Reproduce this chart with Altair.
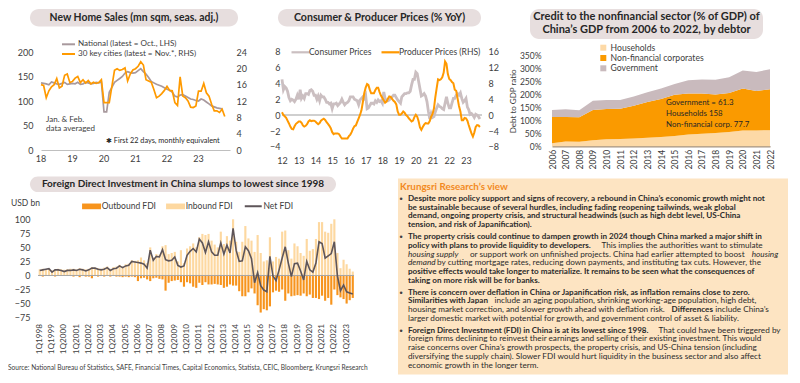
import altair as alt
import pandas as pd

FONT = "Lato"
INK = "#404040"
DARK = "#262626"
W, H = 784, 367

# ---------------- data ----------------
HOME_NAT = "National (latest = Oct., LHS)"
HOME_CITY = "30 key cities (latest = Nov.*, RHS)"
home_national = [
    137, 136, 135, 133, 139, 137, 135, 134, 136, 138, 134, 135,
    136, 135, 138, 134, 135, 138, 137, 135, 136, 138, 137, 139,
    78, 78, 118, 128, 138, 142, 146, 150, 157, 160, 158, 157,
    158, 162, 166, 160, 155, 148, 140, 137, 134, 132, 130, 127,
    124, 122, 118, 110, 108, 112, 113, 110, 107, 104, 103, 101,
    100, 104, 102, 98, 94, 90, 88, 86, 85, 84,
]
home_cities = [
    16.0, 15.8, 12.8, 14.5, 15.5, 16.0, 17.5, 15.2, 15.6, 18.3, 18.6, 16.5,
    16.8, 17.6, 18.0, 16.5, 17.2, 16.4, 17.0, 16.2, 16.6, 16.3, 16.5, 17.2,
    11.6, 11.6, 11.6, 15.6, 19.5, 19.9, 19.5, 19.7, 20.1, 16.9, 18.6, 19.6,
    19.9, 20.5, 21.6, 20.8, 17.2, 16.9, 16.6, 14.8, 12.8, 13.2, 13.8, 14.6,
    15.6, 14.6, 14.5, 11.6, 10.9, 17.9, 13.2, 12.8, 12.0, 10.5, 10.4, 10.8,
    14.4, 14.4, 16.3, 14.0, 13.2, 11.2, 9.6, 9.6, 9.2, 10.0, 8.2,
]
home_year_ticks = [2018, 2019, 2020, 2021, 2022, 2023]
home_year_labels = ["18", "19", "20", "21", "22", "23"]

CPI_NAME = "Consumer Prices"
PPI_NAME = "Producer Prices (RHS)"
cpi_yoy = [
    4.5, 3.2, 3.6, 3.4, 3.0, 2.2, 1.8, 2.0, 1.9, 1.7, 2.0, 2.5,
    2.0, 3.2, 2.1, 2.4, 2.1, 2.7, 2.7, 2.6, 3.1, 3.2, 3.0, 2.5,
    2.5, 2.0, 2.4, 1.8, 2.5, 2.3, 2.3, 2.0, 1.6, 1.6, 1.4, 1.5,
    0.8, 1.4, 1.4, 1.5, 1.2, 1.4, 1.6, 2.0, 1.6, 1.3, 1.5, 1.6,
    1.8, 2.3, 2.3, 2.3, 2.0, 1.9, 1.8, 1.3, 1.9, 2.1, 2.3, 2.1,
    2.5, 0.8, 0.9, 1.2, 1.5, 1.5, 1.4, 1.8, 1.6, 1.9, 1.7, 1.8,
    1.5, 2.9, 2.1, 1.8, 1.8, 1.9, 2.1, 2.3, 2.5, 2.5, 2.2, 1.9,
    1.7, 1.5, 2.3, 2.5, 2.7, 2.7, 2.8, 2.8, 3.0, 3.8, 4.5, 4.5,
    5.4, 5.2, 4.3, 3.3, 2.4, 2.5, 2.7, 2.4, 1.7, 0.5, -0.5, 0.2,
    -0.3, -0.2, 0.4, 0.9, 1.3, 1.1, 1.0, 0.8, 0.7, 1.5, 2.3, 1.5,
    0.9, 0.9, 1.5, 2.1, 2.1, 2.5, 2.7, 2.5, 2.8, 2.1, 1.6, 1.8,
    2.1, 1.0, 0.7, 0.1, 0.2, 0.0, -0.3, 0.1, 0.0, -0.2, -0.5,
]
ppi_yoy = [
    0.7, 0.0, -0.3, -0.7, -1.4, -2.1, -2.9, -3.5, -3.6, -2.8, -2.2, -1.9,
    -1.6, -1.6, -1.9, -2.6, -2.9, -2.7, -2.3, -1.6, -1.3, -1.5, -1.4, -1.4,
    -1.6, -2.0, -2.3, -2.0, -1.4, -1.1, -0.9, -1.2, -1.8, -2.2, -2.7, -3.3,
    -4.3, -4.8, -4.6, -4.6, -4.6, -4.8, -5.4, -5.9, -5.9, -5.9, -5.9, -5.9,
    -5.3, -4.9, -4.3, -3.4, -2.8, -2.6, -1.7, -0.8, 0.1, 1.2, 3.3, 5.5,
    6.9, 7.8, 7.6, 6.4, 5.5, 5.5, 5.5, 6.3, 6.9, 6.9, 5.8, 4.9,
    4.3, 3.7, 3.1, 3.4, 4.1, 4.7, 4.6, 4.1, 3.6, 3.3, 2.7, 0.9,
    0.1, 0.1, 0.4, 0.9, 0.6, 0.0, -0.3, -0.8, -1.2, -1.6, -1.4, -0.5,
    0.1, -0.4, -1.5, -3.1, -3.7, -3.0, -2.4, -2.0, -2.1, -2.1, -1.5, -0.4,
    0.3, 1.7, 4.4, 6.8, 9.0, 8.8, 9.0, 9.5, 10.7, 13.5, 12.9, 10.3,
    9.1, 8.8, 8.3, 8.0, 6.4, 6.1, 4.2, 2.3, 0.9, -1.3, -1.3, -0.7,
    -0.8, -1.4, -2.5, -3.6, -4.6, -5.4, -4.4, -3.0, -2.5, -2.6, -3.0,
]

debt_years = list(range(2006, 2023))
debt_sectors = ["Households", "Non-financial corporates", "Government"]
debt_households = [11, 18, 17, 23, 27, 28, 30, 33, 35, 39, 45, 48, 51, 55, 61, 61, 61.3]
debt_corporates = [102, 95, 95, 117, 116, 116, 126, 137, 147, 159, 158, 155, 148, 150, 161, 152, 158]
debt_government = [27, 29, 27, 35, 35, 34, 36, 38, 40, 42, 51, 54, 57, 61, 70, 73, 77.7]
debt_notes = ["Government = 61.3", "Households 158", "Non-financial corp. 77.7"]

fdi_quarters = [f"{q}Q{y}" for y in range(1998, 2024) for q in range(1, 5)][:103]
fdi_labels = [f"1Q{y}" for y in range(1998, 2024)]
fdi_types = ["Outbound FDI", "Inbound FDI"]
fdi_inbound = [
    11, 12, 11, 12, 9, 11, 12, 11, 10, 11, 12, 12, 11, 13, 12, 11,
    12, 15, 14, 13, 12, 14, 16, 12, 15, 16, 19, 16, 20, 21, 27, 26,
    27, 32, 27, 22, 50, 32, 38, 37, 52, 54, 38, 40, 42, 25, 45, 22,
    48, 52, 57, 50, 68, 74, 72, 74,
    62, 55, 50, 78, 56, 70, 62, 100, 60, 42, 60, 88, 66, 62, 42, 72,
    40, 25, 27, 68, 25, 33, 30, 78, 80, 45, 30, 57, 52, 40, 35, 65,
    44, 47, 65, 95, 95, 78, 76, 92, 100, 40, 13, 28, 20, 12, 7,
]
fdi_outbound = [
    -1, -2, -1, -1, -1, -2, -1, -1, -1, -1, -1, -2, -1, -3, -1, -2,
    -2, -5, -1, -2, -1, -2, -1, -2, -1, -2, -2, -3, -2, -3, -2, -3,
    -10, -5, -4, -7, -10, -5, -4, -6, -7, -27, -13, -10, -9, -8, -12, -20,
    -12, -14, -20, -22, -13, -17, -12, -16,
    -16, -15, -16, -17, -22, -20, -16, -18, -18, -28, -37, -37, -30, -23, -32, -53,
    -66, -60, -62, -55, -30, -27, -29, -25, -45, -32, -37, -36, -35, -36, -32, -37,
    -34, -40, -40, -42, -36, -45, -40, -52, -25, -35, -39, -42, -50, -44, -40,
]
fdi_net = [
    9, 10, 11, 12, 6, 10, 10, 9, 7, 9, 9, 10, 9, 11, 10, 8,
    10, 13, 13, 11, 10, 11, 14, 9, 12, 13, 17, 14, 17, 18, 25, 24,
    23, 22, 20, 13, 45, 27, 34, 33, 46, 28, 26, 27, 33, 18, 15, 17,
    36, 43, 48, 42, 65, 58, 41, 60,
    42, 36, 36, 58, 38, 54, 40, 84, 45, 25, 26, 51, 44, 30, -13, 5,
    -18, -26, -29, 34, -1, -9, 10, 31, 51, 22, -2, 21, 22, 8, -8, 25,
    10, 6, 22, 60, 57, 31, 35, 39, 60, -1, -27, -17, -29, -31, -33,
]

title_home = "New Home Sales (mn sqm, seas. adj.)"
title_prices = "Consumer & Producer Prices (% YoY)"
title_debt = ["Credit to the nonfinancial sector (% of GDP) of", "China’s GDP from 2006 to 2022, by debtor"]
title_fdi = "Foreign Direct Investment in China slumps to lowest since 1998"
note_home = ["Jan. & Feb.", "data averaged"]
note_star = "✱ First 22 days, monthly equivalent"
source_text = ("Source: National Bureau of Statistics, SAFE, Financial Times, Capital Economics, "
               "Statista, CEIC, Bloomberg, Krungsri Research")
view_title = "Krungsri Research’s view"
view_paragraphs = [
    [
        [("b", "Despite more policy support and signs of recovery, a rebound in China’s economic growth might not")],
        [("b", "be sustainable because of several hurdles, including fading reopening tailwinds, weak global")],
        [("b", "demand, ongoing property crisis, and structural headwinds (such as high debt level, US-China")],
        [("b", "tension, and risk of Japanification).")],
    ],
    [
        [("b", "The property crisis could continue to dampen growth in 2024 though China marked a major shift in")],
        [("b", "policy with plans to provide liquidity to developers."), ("n", "This implies the authorities want to stimulate")],
        [("i", "housing supply"), ("n", "or support work on unfinished projects. China had earlier attempted to boost"), ("i", "housing")],
        [("i", "demand"), ("n", "by cutting mortgage rates, reducing down payments, and instituting tax cuts. However, the")],
        [("b", "positive effects would take longer to materialize. It remains to be seen what the consequences of")],
        [("b", "taking on more risk will be for banks.")],
    ],
    [
        [("b", "There is concern over deflation in China or Japanification risk, as inflation remains close to zero.")],
        [("b", "Similarities with Japan"), ("n", "include an aging population, shrinking working-age population, high debt,")],
        [("n", "housing market correction, and slower growth ahead with deflation risk."), ("b", "Differences"), ("n", "include China’s")],
        [("n", "larger domestic market with potential for growth, and government control of asset & liability.")],
    ],
    [
        [("b", "Foreign Direct Investment (FDI) in China is at its lowest since 1998."), ("n", "That could have been triggered by")],
        [("n", "foreign firms declining to reinvest their earnings and selling of their existing investment. This would")],
        [("n", "raise concerns over China’s growth prospects, the property crisis, and US-China tension (including")],
        [("n", "diversifying the supply chain). Slower FDI would hurt liquidity in the business sector and also affect")],
        [("n", "economic growth in the longer term.")],
    ],
]


# ---------------- helpers ----------------
def one():
    return pd.DataFrame({"k": [0]})


def box(x0, x1, y0, y1, color="#E7DEDE", radius=9):
    return alt.Chart(one()).mark_rect(cornerRadius=radius, color=color).encode(
        x=alt.value(x0), x2=alt.value(x1), y=alt.value(y0), y2=alt.value(y1))


def txt(text, x, y, size, weight="normal", color=DARK, align="left", style="normal"):
    return alt.Chart(pd.DataFrame({"t": [text]})).mark_text(
        align=align, baseline="middle", font=FONT, fontSize=size, fontWeight=weight,
        fontStyle=style, color=color).encode(x=alt.value(x), y=alt.value(y), text="t:N")


def leg(x, y, direction, symbol, size, offset, fs=8.5, **kw):
    return alt.Legend(orient="none", legendX=x, legendY=y, direction=direction, title=None,
                      symbolType=symbol, symbolSize=size, labelOffset=offset, padding=0,
                      labelFont=FONT, labelFontSize=fs, labelColor=INK, **kw)


def dt(y, m=1):
    return alt.DateTime(year=y, month=m, date=1)


# ---------------- panel 1: new home sales ----------------
home_dates = pd.date_range("2018-01-01", periods=len(home_cities), freq="MS")
home_t = list(home_dates.year + (home_dates.month - 1) / 12.0)
df_nat = pd.DataFrame({"t": home_t[:len(home_national)], "value": home_national, "series": HOME_NAT})
df_city = pd.DataFrame({"t": home_t, "value": home_cities, "series": HOME_CITY})
df_home_ticks = pd.DataFrame({"t": home_year_ticks, "lab": home_year_labels})

x_home = alt.X("t:Q", scale=alt.Scale(domain=[2018, 2024], range=[33, 222], nice=False, zero=False),
               axis=alt.Axis(orient="bottom", offset=142 - H, values=home_year_ticks, labels=False,
                             domain=True, domainColor="#BFBFBF", title=None))
c_home = alt.Color("series:N", scale=alt.Scale(domain=[HOME_NAT, HOME_CITY], range=["#A8999D", "#FF9A00"]),
                   legend=leg(56, 31.8, "vertical", "M-2,0L2,0", 42, 5, fs=8.1, symbolStrokeWidth=2,
                              rowPadding=0.7))
nat = alt.Chart(df_nat).mark_line(strokeWidth=1.7).encode(
    x=x_home,
    y=alt.Y("value:Q", scale=alt.Scale(domain=[0, 200], range=[142, 44], nice=False),
            axis=alt.Axis(orient="left", offset=-33, values=[0, 50, 100, 150, 200], labelFontSize=9,
                          labelPadding=8, labelOverlap=False, title=None)),
    color=c_home)
city = alt.Chart(df_city).mark_line(strokeWidth=1.7).encode(
    x=x_home,
    y=alt.Y("value:Q", scale=alt.Scale(domain=[0, 24], range=[142, 44], nice=False),
            axis=alt.Axis(orient="right", offset=222 - W, values=[0, 4, 8, 12, 16, 20, 24], labelFontSize=9,
                          labelPadding=6, labelOverlap=False, title=None)),
    color=c_home)
home_ticks = alt.Chart(df_home_ticks).mark_text(
    baseline="middle", align="center", font=FONT, fontSize=9, color=INK).encode(
    x=x_home, y=alt.value(151), text="lab:N")
p1 = alt.layer(alt.layer(nat, home_ticks), city).resolve_scale(y="independent")

# ---------------- panel 2: prices ----------------
price_dates = pd.date_range("2012-01-01", periods=len(cpi_yoy), freq="MS")
df_cpi = pd.DataFrame({"date": price_dates, "value": cpi_yoy, "series": CPI_NAME})
df_ppi = pd.DataFrame({"date": price_dates, "value": ppi_yoy, "series": PPI_NAME})
x_price = alt.X("date:T", scale=alt.Scale(domain=[dt(2012), dt(2024)], range=[274, 474.7]),
                axis=alt.Axis(orient="bottom", offset=141 - H, values=[dt(y) for y in range(2012, 2024)],
                              format="%y", labelFontSize=9, labelPadding=7, labelFlush=False,
                              labelOverlap=False, title=None))
c_price = alt.Color("series:N", scale=alt.Scale(domain=[CPI_NAME, PPI_NAME], range=["#CBBFC1", "#FF9900"]),
                    legend=leg(288, 39.8, "horizontal", "M-3,0L3,0", 36, 4, fs=8.5, symbolStrokeWidth=2.2,
                               columnPadding=5))
y_cpi = alt.Y("value:Q", scale=alt.Scale(domain=[-4, 8], range=[138.9, 43.5], nice=False),
              axis=alt.Axis(orient="left", offset=-274, values=list(range(-4, 10, 2)), labelFontSize=9,
                            labelPadding=2, labelOverlap=False, title=None))
zero_p = alt.Chart(one()).mark_rule(color="#BFBFBF", strokeWidth=1.5).encode(
    x=alt.value(274), x2=alt.value(474), y=alt.datum(0))
cpi_line = alt.Chart(df_cpi).mark_line(strokeWidth=2.8).encode(x=x_price, y=y_cpi, color=c_price)
ppi_line = alt.Chart(df_ppi).mark_line(strokeWidth=2).encode(
    x=x_price,
    y=alt.Y("value:Q", scale=alt.Scale(domain=[-8, 16], range=[138.9, 43.5], nice=False),
            axis=alt.Axis(orient="right", offset=475 - W, values=list(range(-8, 20, 4)), labelFontSize=9,
                          labelPadding=5, labelOverlap=False, title=None)),
    color=c_price)
p2 = alt.layer(alt.layer(zero_p, cpi_line), ppi_line).resolve_scale(y="independent")

# ---------------- panel 3: debt ----------------
debt_rows = []
for s_i, (name, vals) in enumerate(zip(debt_sectors, [debt_households, debt_corporates, debt_government])):
    for yr, v in zip(debt_years, vals):
        debt_rows.append({"year": yr, "sector": name, "value": v, "ord": s_i})
df_debt = pd.DataFrame(debt_rows)
p3 = alt.Chart(df_debt).mark_area(opacity=1).encode(
    x=alt.X("year:Q", scale=alt.Scale(domain=[2006, 2022], range=[544, 762], nice=False, zero=False),
            axis=alt.Axis(orient="bottom", offset=138.2 - H, values=debt_years, format="d", labelAngle=270,
                          labelFontSize=8.5, labelPadding=3, labelFlush=False, labelOverlap=False, domain=True,
                          domainColor="#A59483", domainWidth=1.5, title=None)),
    y=alt.Y("value:Q", stack="zero", scale=alt.Scale(domain=[0, 350], range=[138.2, 47.4], nice=False),
            axis=alt.Axis(orient="left", offset=-542, values=list(range(0, 400, 50)),
                          labelExpr="datum.value + '%'", labelFontSize=8.5, labelPadding=9, labelOverlap=False,
                          title="Debt to GDP ratio", titleFontSize=8, titleFontWeight="normal",
                          titleColor=INK, titleFont=FONT, titlePadding=2)),
    color=alt.Color("sector:N", scale=alt.Scale(domain=debt_sectors, range=["#FDD9A6", "#FA9A00", "#C9BABD"]),
                    legend=leg(591, 35.4, "vertical", "M-1,-1H1V1H-1Z", 36, 3, fs=8.6, rowPadding=1.3)),
    order=alt.Order("ord:Q"))

# ---------------- panel 4: FDI ----------------
df_bars = pd.DataFrame(
    [{"quarter": q, "type": "Inbound FDI", "value": v} for q, v in zip(fdi_quarters, fdi_inbound)]
    + [{"quarter": q, "type": "Outbound FDI", "value": v} for q, v in zip(fdi_quarters, fdi_outbound)])
df_net = pd.DataFrame({"quarter": fdi_quarters, "value": fdi_net, "type": "Net FDI"})
x_fdi = alt.X("quarter:N", scale=alt.Scale(domain=fdi_quarters, range=[30.2, 346.3], paddingInner=0.3,
                                           paddingOuter=0.15),
              axis=alt.Axis(orient="bottom", offset=309.6 - H, values=fdi_labels, labelAngle=270,
                            labelFontSize=8.2, labelPadding=5.8, labelOverlap=False, title=None))
y_fdi = alt.Y("value:Q", scale=alt.Scale(domain=[-75, 100], range=[309.6, 211.3], nice=False),
              axis=alt.Axis(orient="left", offset=-30, values=list(range(-75, 125, 25)), labelFontSize=9,
                            labelPadding=8, labelOverlap=False, title=None))
bars = alt.Chart(df_bars).mark_bar().encode(
    x=x_fdi, y=y_fdi,
    color=alt.Color("type:N", scale=alt.Scale(domain=fdi_types, range=["#F7941D", "#FDD8A0"]),
                    legend=leg(79.3, 194, "horizontal", "M-3,-0.9H3V0.9H-3Z", 40, 6, fs=8.5, columnPadding=9)))
zero_f = alt.Chart(one()).mark_rule(color="#A6A6A6", strokeWidth=1).encode(
    x=alt.value(30), x2=alt.value(346), y=alt.datum(0))
net = alt.Chart(df_net).mark_line(strokeWidth=1.6).encode(
    x=x_fdi, y=y_fdi,
    color=alt.Color("type:N", scale=alt.Scale(domain=["Net FDI"], range=["#5E5559"]),
                    legend=leg(241, 194, "horizontal", "M-3,0L3,0", 32, 6, fs=8.5, symbolStrokeWidth=2)))
p4 = alt.layer(bars, zero_f, net).resolve_scale(color="independent")

# ---------------- panel 5: view text ----------------
FS_B, FS_N = 8.1, 8.2
EM = {"b": 0.44 * FS_B, "n": 0.445 * FS_N, "i": 0.5 * FS_N}
seg_rows = []
slot = 1.41
for p, para in enumerate(view_paragraphs):
    for j, line in enumerate(para):
        pos = 0.0
        for k, (st, tx) in enumerate(line):
            seg_rows.append({"slot": slot, "pos": pos, "text": tx, "style": st, "bullet": j == 0 and k == 0})
            pos += EM[st] * len(tx) + 4.5
        slot += 1
    slot += 0.38
df_seg = pd.DataFrame(seg_rows)
x_seg = alt.X("pos:Q", scale=alt.Scale(domain=[0, 374], range=[400, 774], nice=False, zero=False), axis=None)
y_seg = alt.Y("slot:Q", scale=alt.Scale(domain=[0, 20], range=[178.8, 352.8], nice=False, zero=False), axis=None)
seg_layers = []
for st in ["b", "n", "i"]:
    seg_layers.append(
        alt.Chart(df_seg).transform_filter(alt.datum.style == st).mark_text(
            align="left", baseline="middle", font=FONT, fontSize=FS_B if st == "b" else FS_N,
            color="#2B2B2B", fontWeight="bold" if st == "b" else "normal",
            fontStyle="italic" if st == "i" else "normal").encode(x=x_seg, y=y_seg, text="text:N"))
bullets = alt.Chart(df_seg).transform_filter(alt.datum.bullet == True).mark_text(
    text="•", align="center", baseline="middle", fontSize=9, color="#404040").encode(
    x=alt.value(393), y=y_seg)
p5 = alt.layer(*seg_layers, bullets)

# ---------------- assemble ----------------
layers = [
    box(22, 230, 1, 18.5), txt(title_home, 126, 10, 10.4, "bold", align="center"),
    box(270, 473, 1, 18.5), txt(title_prices, 371.5, 10, 10.6, "bold", align="center"),
    box(522, 755, 1, 31), txt(title_debt[0], 638.5, 9.4, 11, "bold", align="center"),
    txt(title_debt[1], 638.5, 21.6, 11, "bold", align="center"),
    box(22, 328, 168.4, 184), txt(title_fdi, 175, 176.2, 10, "bold", align="center"),
    p1,
    txt(note_home[0], 38, 112, 8, color=INK), txt(note_home[1], 38, 120.7, 8, color=INK),
    txt(note_star, 98, 133.4, 7.3, color=DARK),
    p2,
    p3,
    txt(debt_notes[0], 658, 95.4, 7.9, color=DARK), txt(debt_notes[1], 658, 105.9, 7.9, color=DARK),
    txt(debt_notes[2], 658, 116.5, 7.9, color=DARK),
    p4,
    txt("USD bn", 3, 194.7, 8.5, color=INK),
    txt(source_text, 0, 360.2, 6.6, color=INK),
    box(390, 780, 170.4, 366.5, color="#FDE4C2", radius=0),
    txt(view_title, 392, 178.8, 9.8, "bold", color="#F28A1F"),
    p5,
]

chart = alt.layer(*layers).resolve_scale(
    x="independent", y="independent", color="independent"
).properties(
    width=W, height=H, autosize=alt.AutoSizeParams(type="none"), padding=0
).configure_view(strokeWidth=0).configure_axis(
    grid=False, ticks=False, domain=False, labelFont=FONT, labelColor=INK
).configure_legend(labelFont=FONT, labelColor=INK)

chart.save("out.html", embed_options={"renderer": "svg", "actions": False})
